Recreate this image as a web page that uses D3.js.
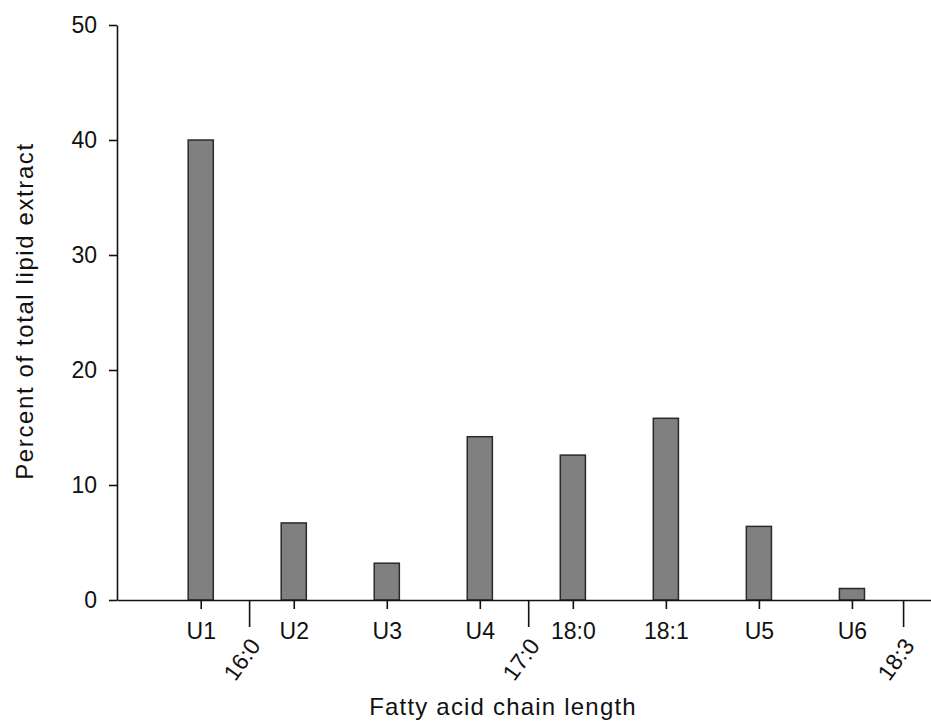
<!DOCTYPE html>
<html>
<head>
<meta charset="utf-8">
<script src="https://cdn.jsdelivr.net/npm/d3@7"></script>
<style>
  html, body { margin: 0; padding: 0; background: #fff; }
  svg { display: block; }
  text { font-family: "Liberation Sans", Arial, sans-serif; fill: #111; }
</style>
</head>
<body>
<svg id="chart" width="931" height="723"></svg>
<script>
// Fatty acid composition of the total lipid extract
const barLabels = ["U1", "U2", "U3", "U4", "18:0", "18:1", "U5", "U6"];
const barPositions = [1, 2, 3, 4, 5, 6, 7, 8];
const barValues = [40.0, 6.7, 3.2, 14.2, 12.6, 15.8, 6.4, 1.0];

// Reference standards marked between peaks
const standardLabels = ["16:0", "17:0", "18:3"];
const standardPositions = [1.52, 4.52, 8.55];

const yTicks = [0, 10, 20, 30, 40, 50];

const svg = d3.select("#chart");
const plotLeft = 117, plotRight = 931, plotTop = 25, plotBottom = 600;

const x = d3.scaleLinear().domain([0.1, 8.85]).range([plotLeft, plotRight]);
const y = d3.scaleLinear().domain([0, 50]).range([plotBottom, plotTop]);
const halfBar = 0.135;

// bars
svg.append("g").selectAll("rect")
  .data(barValues)
  .join("rect")
  .attr("x", (d, i) => x(barPositions[i] - halfBar))
  .attr("width", (d, i) => x(barPositions[i] + halfBar) - x(barPositions[i] - halfBar))
  .attr("y", d => y(d))
  .attr("height", d => y(0) - y(d))
  .attr("fill", "#808080")
  .attr("stroke", "#2a2a2a")
  .attr("stroke-width", 1.5);

// y axis
const yAxis = svg.append("g")
  .attr("transform", `translate(${plotLeft},0)`)
  .call(d3.axisLeft(y).tickValues(yTicks).tickSize(8).tickSizeOuter(0).tickPadding(12));
yAxis.selectAll("path, line").attr("stroke", "#111").attr("stroke-width", 1.6);
yAxis.selectAll("text").style("font-size", "23px").attr("fill", "#111");

// x axis: peak labels
const xAxis = svg.append("g")
  .attr("transform", `translate(0,${plotBottom})`)
  .call(d3.axisBottom(x).tickValues(barPositions)
    .tickFormat((d, i) => barLabels[i]).tickSize(9).tickSizeOuter(0).tickPadding(14));
xAxis.selectAll("path, line").attr("stroke", "#111").attr("stroke-width", 1.6);
xAxis.selectAll("text").style("font-size", "23px").attr("fill", "#111");

// x axis: standards with long ticks and slanted labels
const sAxis = svg.append("g")
  .attr("transform", `translate(0,${plotBottom})`)
  .call(d3.axisBottom(x).tickValues(standardPositions)
    .tickFormat((d, i) => standardLabels[i]).tickSize(27).tickSizeOuter(0));
sAxis.select(".domain").remove();
sAxis.selectAll("line").attr("stroke", "#111").attr("stroke-width", 1.6);
sAxis.selectAll("text")
  .style("font-size", "23px")
  .attr("fill", "#111")
  .attr("text-anchor", "end")
  .attr("dy", null)
  .attr("y", 0)
  .attr("transform", "translate(12,46) rotate(-54)");

// axis titles
svg.append("text")
  .attr("x", 503).attr("y", 715)
  .attr("text-anchor", "middle")
  .style("font-size", "24px")
  .style("letter-spacing", "1.2px")
  .text("Fatty acid chain length");

svg.append("text")
  .attr("transform", "translate(33,311) rotate(-90)")
  .attr("text-anchor", "middle")
  .style("font-size", "24px")
  .style("letter-spacing", "1.6px")
  .text("Percent of total lipid extract");
</script>
</body>
</html>
